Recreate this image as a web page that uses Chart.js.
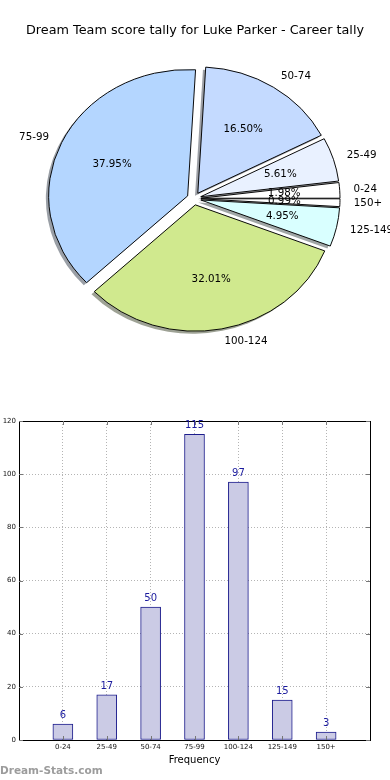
<!DOCTYPE html>
<html><head><meta charset="utf-8">
<script src="https://cdn.jsdelivr.net/npm/chart.js@4.4.1/dist/chart.umd.min.js"></script>
<style>
html,body{margin:0;padding:0;background:#fff;width:390px;height:780px;overflow:hidden;position:relative;font-family:"DejaVu Sans",sans-serif;}
#pie{position:absolute;left:0;top:0;}
#bar{position:absolute;left:0;top:400px;}
#title{position:absolute;left:0;top:22px;width:390px;text-align:center;font-size:12.8px;line-height:16px;color:#000;white-space:nowrap;}
#wm{position:absolute;left:0;top:763px;font-size:10.5px;font-weight:bold;line-height:14px;color:#9c9c9c;white-space:nowrap;}
</style></head>
<body>
<canvas id="pie" width="390" height="400"></canvas>
<canvas id="bar" width="390" height="380"></canvas>
<div id="title">Dream Team score tally for Luke Parker - Career tally</div>
<div id="wm">Dream-Stats.com</div>
<script>
// ---- data ----
const categories = ['0-24','25-49','50-74','75-99','100-124','125-149','150+'];
const frequency  = [6, 17, 50, 115, 97, 15, 3];
const yTicks     = [0, 20, 40, 60, 80, 100, 120];
const pieColors  = ['#ffffff','#e9f1ff','#c4daff','#b4d6ff','#d0e98e','#d9ffff','#ffffff'];

const FONT = 'DejaVu Sans';
const total = frequency.reduce((a,b)=>a+b,0);
// matplotlib draws counter-clockwise from 3 o'clock; Chart.js clockwise -> reverse order
const order = categories.map((_,i)=>i).reverse();

const SQ = 0.909;      // vertical squash of pie (non-equal axes)
const EXPLODE = 7;     // explode distance
const SHADOW = 2.8;    // shadow offset

function shadowColor(hex){
  const r=parseInt(hex.substr(1,2),16), g=parseInt(hex.substr(3,2),16), b=parseInt(hex.substr(5,2),16);
  return 'rgba('+Math.round(r*0.3)+','+Math.round(g*0.3)+','+Math.round(b*0.3)+',0.5)';
}

const piePlugin = {
  id:'piePlugin',
  beforeDatasetsDraw(chart){
    const ctx = chart.ctx;
    const arcs = chart.getDatasetMeta(0).data;
    const cx = arcs[0].x, cy = arcs[0].y;
    ctx.save();
    ctx.translate(cx,cy); ctx.scale(1,SQ); ctx.translate(-cx,-cy);
    arcs.forEach(a=>{
      const m = (a.startAngle+a.endAngle)/2;
      const ox = Math.cos(m)*EXPLODE - SHADOW, oy = Math.sin(m)*EXPLODE + SHADOW;
      ctx.beginPath();
      ctx.moveTo(a.x+ox, a.y+oy);
      ctx.arc(a.x+ox, a.y+oy, a.outerRadius, a.startAngle, a.endAngle);
      ctx.closePath();
      ctx.fillStyle = shadowColor(a.options.backgroundColor);
      ctx.fill();
    });
    arcs.forEach(a=>{
      const m = (a.startAngle+a.endAngle)/2;
      ctx.save();
      ctx.translate(Math.cos(m)*EXPLODE, Math.sin(m)*EXPLODE);
      a.draw(ctx);
      ctx.restore();
    });
    ctx.restore();
    return false;
  },
  afterDraw(chart){
    const ctx = chart.ctx;
    const arcs = chart.getDatasetMeta(0).data;
    ctx.save();
    ctx.fillStyle = '#000';
    ctx.font = '10.3px "'+FONT+'"';
    arcs.forEach((a,i)=>{
      const idx = order[i];
      const m = (a.startAngle+a.endAngle)/2;
      const ex = Math.cos(m), ey = Math.sin(m);
      const R = a.outerRadius;
      const lx = a.x + ex*(EXPLODE + 1.1*R), ly = a.y + SQ*ey*(EXPLODE + 1.1*R);
      ctx.textAlign = ex > 0 ? 'left' : 'right';
      ctx.textBaseline = 'middle';
      ctx.fillText(categories[idx], lx, ly);
      const px = a.x + ex*(EXPLODE + 0.6*R), py = a.y + SQ*ey*(EXPLODE + 0.6*R);
      ctx.textAlign = 'center';
      ctx.fillText((frequency[idx]/total*100).toFixed(2)+'%', px, py);
    });
    ctx.restore();
  }
};

new Chart(document.getElementById('pie'), {
  type:'pie',
  data:{
    labels: order.map(i=>categories[i]),
    datasets:[{
      data: order.map(i=>frequency[i]),
      backgroundColor: order.map(i=>pieColors[i]),
      borderColor:'#000',
      borderWidth:1,
      borderJoinStyle:'miter'
    }]
  },
  options:{
    responsive:false, animation:false,
    rotation:90,
    radius:139,
    layout:{padding:{left:0,right:2,top:0,bottom:2.8}},
    plugins:{legend:{display:false},tooltip:{enabled:false},title:{display:false}}
  },
  plugins:[piePlugin]
});

// ---- bar chart ----
const barLabelPlugin = {
  id:'barLabels',
  afterDraw(chart){
    const ctx = chart.ctx;
    const bars = chart.getDatasetMeta(0).data;
    const ca = chart.chartArea;
    ctx.save();
    // frame
    ctx.strokeStyle = '#000'; ctx.lineWidth = 1;
    ctx.strokeRect(Math.round(ca.left)+0.5, Math.round(ca.top)+0.5, Math.round(ca.right-ca.left), Math.round(ca.bottom-ca.top));
    // inward tick marks
    ctx.strokeStyle = '#777';
    const ys = chart.scales.y, xs = chart.scales.x;
    ys.ticks.forEach(t=>{
      const y = Math.round(ys.getPixelForValue(t.value))+0.5;
      ctx.beginPath(); ctx.moveTo(ca.left, y); ctx.lineTo(ca.left+4, y);
      ctx.moveTo(ca.right, y); ctx.lineTo(ca.right-4, y); ctx.stroke();
    });
    xs.ticks.forEach(t=>{
      const x = Math.round(xs.getPixelForValue(t.value))+0.5;
      ctx.beginPath(); ctx.moveTo(x, ca.top); ctx.lineTo(x, ca.top+4);
      ctx.moveTo(x, ca.bottom); ctx.lineTo(x, ca.bottom-4); ctx.stroke();
    });
    // value labels
    ctx.fillStyle = '#1a1a9e';
    ctx.font = '10px "'+FONT+'"';
    ctx.textAlign = 'center'; ctx.textBaseline = 'middle';
    bars.forEach((b,i)=>{
      ctx.fillText(String(frequency[i]), b.x, b.y - 8.8);
    });
    ctx.restore();
  }
};

new Chart(document.getElementById('bar'), {
  type:'bar',
  data:{
    datasets:[{
      data: frequency.map((v,i)=>({x:i+1, y:v})),
      backgroundColor:'#cbcbe5',
      borderColor:'#1c1c8c',
      borderWidth:1,
      borderSkipped:false,
      barThickness:20
    }]
  },
  options:{
    responsive:false, animation:false,
    layout:{padding:{left:0,right:20,top:21,bottom:0}},
    plugins:{legend:{display:false},tooltip:{enabled:false}},
    scales:{
      x:{
        type:'linear', min:0, max:8, offset:false, z:1,
        afterBuildTicks:(s)=>{ s.ticks = categories.map((c,i)=>({value:i+1})); },
        ticks:{ callback:(v)=>categories[v-1], font:{size:7,family:FONT}, color:'#111', padding:3, maxRotation:0, autoSkip:false },
        grid:{ color:'#b4b4b4', drawTicks:false, lineWidth:1, offset:false },
        border:{ display:true, color:'#000', dash:[1,2] },
        title:{ display:true, text:'Frequency', font:{size:10,family:FONT}, color:'#000', padding:{top:0,bottom:14} },
        afterFit:(s)=>{ s.height = 40; }
      },
      y:{
        min:0, max:120, z:1,
        afterBuildTicks:(s)=>{ s.ticks = yTicks.map(v=>({value:v})); },
        ticks:{ font:{size:7,family:FONT}, color:'#111', padding:3 },
        grid:{ color:'#b4b4b4', drawTicks:false, lineWidth:1 },
        border:{ display:true, color:'#000', dash:[1,2] },
        afterFit:(s)=>{ s.width = 19; }
      }
    }
  },
  plugins:[barLabelPlugin]
});
</script>
</body></html>
